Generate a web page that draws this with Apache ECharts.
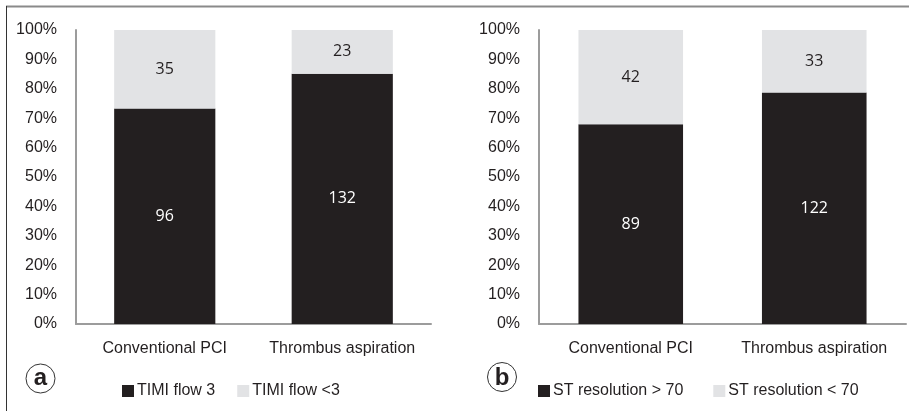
<!DOCTYPE html>
<html>
<head>
<meta charset="utf-8">
<script src="https://cdn.jsdelivr.net/npm/echarts@6/dist/echarts.min.js"></script>
<style>html,body{margin:0;padding:0;background:#fff;}#c{width:909px;height:411px;}</style>
</head>
<body>
<div id="c"></div>
<script>
const categories = ['Conventional PCI', 'Thrombus aspiration'];
const yTicks = ['0%','10%','20%','30%','40%','50%','60%','70%','80%','90%','100%'];
const timiNames = ['TIMI flow 3', 'TIMI flow <3'];
const timi3 = [96, 132];
const timiLess3 = [35, 23];
const stNames = ['ST resolution > 70', 'ST resolution < 70'];
const stAbove = [89, 122];
const stBelow = [42, 33];

const DARK = '#231f20', LIGHT = '#e2e3e5', AXIS = '#9c9c9c';
const pct = (a, b) => a.map((v, i) => ({value: v / (v + b[i]) * 100, count: v}));

const chart = echarts.init(document.getElementById('c'));
const yAxisCommon = {
  type: 'value', min: 0, max: 100, interval: 10,
  axisLine: {show: true, lineStyle: {color: AXIS, width: 2}},
  axisTick: {show: false}, splitLine: {show: false},
  axisLabel: {margin: 19, color: '#231f20', fontFamily: 'Liberation Sans', fontSize: 16,
    formatter: v => yTicks[Math.round(v / 10)]}
};
const xAxisCommon = {
  type: 'category', data: categories,
  axisLine: {lineStyle: {color: AXIS, width: 2}},
  axisTick: {show: false},
  axisLabel: {interval: 0, margin: 17, color: '#231f20', fontFamily: 'Liberation Sans', fontSize: 16}
};
function bar(name, data, color, labelColor, idx) {
  return {
    name, type: 'bar', stack: 's' + idx, xAxisIndex: idx, yAxisIndex: idx,
    data, barWidth: '57%', itemStyle: {color},
    label: {show: true, position: 'inside', color: labelColor, fontFamily: 'Open Sans', fontSize: 16,
      formatter: p => String(p.data.count)},
    emphasis: {disabled: true}, animation: false
  };
}
const legendCommon = {
  itemWidth: 12, itemHeight: 12, icon: 'rect', padding: 0, top: 383,
  textStyle: {color: '#231f20', fontFamily: 'Liberation Sans', fontSize: 16, padding: [0, 0, 0, -2]}
};
chart.setOption({
  animation: false,
  grid: [
    {left: 76, top: 30, width: 355, height: 294},
    {left: 539, top: 30, width: 367, height: 294}
  ],
  xAxis: [Object.assign({gridIndex: 0}, xAxisCommon), Object.assign({gridIndex: 1}, xAxisCommon)],
  yAxis: [Object.assign({gridIndex: 0}, yAxisCommon), Object.assign({gridIndex: 1}, yAxisCommon)],
  legend: [
    Object.assign({left: 122, itemGap: 22, data: timiNames}, legendCommon),
    Object.assign({left: 538, itemGap: 30, data: stNames}, legendCommon)
  ],
  series: [
    bar(timiNames[0], pct(timi3, timiLess3), DARK, '#ffffff', 0),
    bar(timiNames[1], pct(timiLess3, timi3), LIGHT, '#231f20', 0),
    bar(stNames[0], pct(stAbove, stBelow), DARK, '#ffffff', 1),
    bar(stNames[1], pct(stBelow, stAbove), LIGHT, '#231f20', 1)
  ],
  graphic: [
    {type: 'line', shape: {x1: 6, y1: 6.5, x2: 909, y2: 6.5}, style: {stroke: '#8a8a8a', lineWidth: 2}},
    {type: 'line', shape: {x1: 6.5, y1: 6, x2: 6.5, y2: 411}, style: {stroke: '#333', lineWidth: 1}},
    {type: 'circle', shape: {cx: 40.5, cy: 378.5, r: 14.5}, style: {fill: '#fff', stroke: '#333', lineWidth: 1}},
    {type: 'text', x: 40.5, y: 378.5, style: {text: 'a', fontFamily: 'Liberation Sans', fontWeight: 'bold', fontSize: 24, fill: '#231f20', align: 'center', verticalAlign: 'middle'}},
    {type: 'circle', shape: {cx: 502, cy: 377, r: 14.5}, style: {fill: '#fff', stroke: '#333', lineWidth: 1}},
    {type: 'text', x: 502, y: 378, style: {text: 'b', fontFamily: 'Liberation Sans', fontWeight: 'bold', fontSize: 24, fill: '#231f20', align: 'center', verticalAlign: 'middle'}}
  ]
});
</script>
</body>
</html>
